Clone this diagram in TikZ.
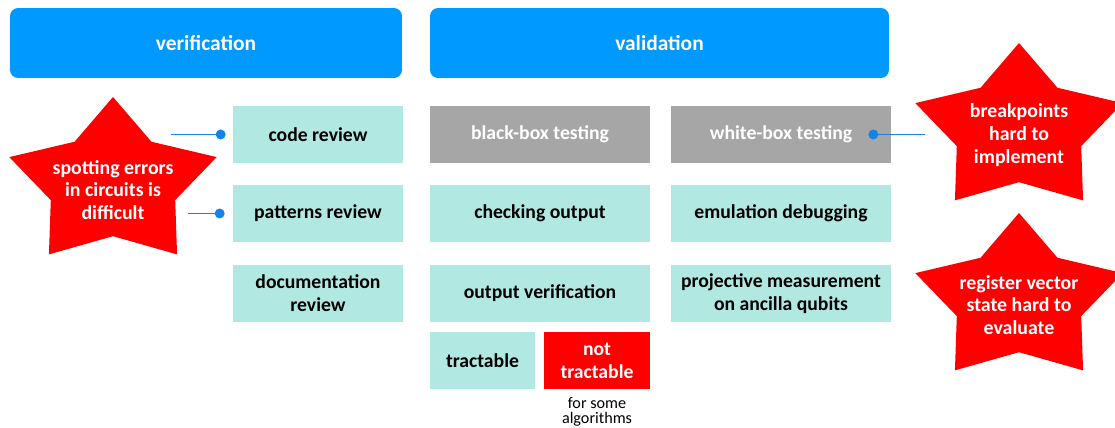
\documentclass[tikz,border=0pt]{standalone}
\usepackage{fontspec}
\setmainfont{Carlito}
\usetikzlibrary{positioning}
\definecolor{blue1}{RGB}{0,153,255}
\definecolor{teal1}{RGB}{178,232,226}
\definecolor{gray1}{RGB}{166,166,166}
\definecolor{red1}{RGB}{255,0,0}
\definecolor{line1}{RGB}{20,130,230}

\begin{document}
\begin{tikzpicture}[x=0.02cm,y=-0.02cm,
  head/.style={fill=blue1, rounded corners=0.16cm, minimum height=1.4cm, text=white, font=\fontsize{12.2}{14}\selectfont\bfseries},
  tbox/.style={fill=teal1, minimum height=1.14cm, align=center, inner sep=0pt, font=\fontsize{11.2}{13}\selectfont\bfseries},
  gbox/.style={tbox, fill=gray1, text=white},
  rbox/.style={tbox, fill=red1, text=white},
  startxt/.style={text=white, align=center, font=\fontsize{11.3}{13}\selectfont\bfseries},
  link/.style={line1, line width=0.6pt},
  linkdot/.style={circle, fill=line1, inner sep=0pt, minimum size=0.2cm}]

\useasboundingbox (0,0) rectangle (1115,428);
\clip (0,0) rectangle (1115,428);

% ----- HEADERS -----
\node[head, minimum width=7.84cm] (verh) at (206,43) {verification};
\node[head, minimum width=9.18cm] (valh) at (659.5,43) {validation};

% ----- STARS (outer radius RX/RY, inner 0.6) -----
\def\RX{109}
\def\RY{87}

% S1: left
\foreach \a/\n/\f in {270/1/1,306/2/0.6,342/3/1,18/4/0.6,54/5/1,90/6/0.6,126/7/1,162/8/0.6,198/9/1,234/10/0.6}
  \coordinate (sa\n) at ([shift={(113,184)}]\a:{\RX*\f} and {\RY*\f});
\fill[red1] (sa1)--(sa2)--(sa3)--(sa4)--(sa5)--(sa6)--(sa7)--(sa8)--(sa9)--(sa10)--cycle;

% S2: right top
\foreach \a/\n/\f in {270/1/1,306/2/0.6,342/3/1,18/4/0.6,54/5/1,90/6/0.6,126/7/1,162/8/0.6,198/9/1,234/10/0.6}
  \coordinate (sb\n) at ([shift={(1019,130)}]\a:{\RX*\f} and {\RY*\f});
\fill[red1] (sb1)--(sb2)--(sb3)--(sb4)--(sb5)--(sb6)--(sb7)--(sb8)--(sb9)--(sb10)--cycle;

% S3: right bottom
\foreach \a/\n/\f in {270/1/1,306/2/0.6,342/3/1,18/4/0.6,54/5/1,90/6/0.6,126/7/1,162/8/0.6,198/9/1,234/10/0.6}
  \coordinate (sc\n) at ([shift={(1019,300)}]\a:{\RX*\f} and {\RY*\f});
\fill[red1] (sc1)--(sc2)--(sc3)--(sc4)--(sc5)--(sc6)--(sc7)--(sc8)--(sc9)--(sc10)--cycle;

\node[startxt] (st1) at (113,190) {spotting errors\\in circuits is\\difficult};
\node[startxt] (st2) at (1019,135) {breakpoints\\hard to\\implement};
\node[startxt] (st3) at (1019,305) {register vector\\state hard to\\evaluate};

% ----- VERIFICATION COLUMN -----
\node[tbox, minimum width=3.4cm] (cr) at (318,134.5) {code review};
\node[tbox, minimum width=3.4cm] (pr) at (318,213.5) {patterns review};
\node[tbox, minimum width=3.4cm] (dr) at (318,293.5) {documentation\\review};

% ----- VALIDATION COLUMNS -----
\node[gbox, minimum width=4.4cm] (bb) at (540,134.5) {black-box testing};
\node[gbox, minimum width=4.4cm] (wb) at (781,134.5) {white-box testing};
\node[tbox, minimum width=4.4cm] (co) at (540,213.5) {checking output};
\node[tbox, minimum width=4.4cm] (ed) at (781,213.5) {emulation debugging};
\node[tbox, minimum width=4.4cm] (ov) at (540,293.5) {output verification};
\node[tbox, minimum width=4.4cm] (pm) at (781,293.5) {projective measurement\\on ancilla qubits};

\node[tbox, minimum width=2.1cm] (tr) at (482.5,360.5) {tractable};
\node[rbox, minimum width=2.12cm] (ntr) at (597,360.5) {not\\tractable};
\node[font=\fontsize{9.2}{8.7}\selectfont, align=center] (fsa) at (597,412) {for some\\algorithms};

% ----- CONNECTORS -----
\coordinate (e1) at (171,134.5);
\coordinate (e2) at (188,213.5);
\coordinate (e3) at (925,134.5);
\draw[link] (e1) -- ([xshift=-0.24cm]cr.west) node[linkdot] {};
\draw[link] (e2) -- ([xshift=-0.26cm]pr.west) node[linkdot] {};
\draw[link] (e3) -- ([xshift=-0.36cm]wb.east) node[linkdot] {};

\end{tikzpicture}
\end{document}
